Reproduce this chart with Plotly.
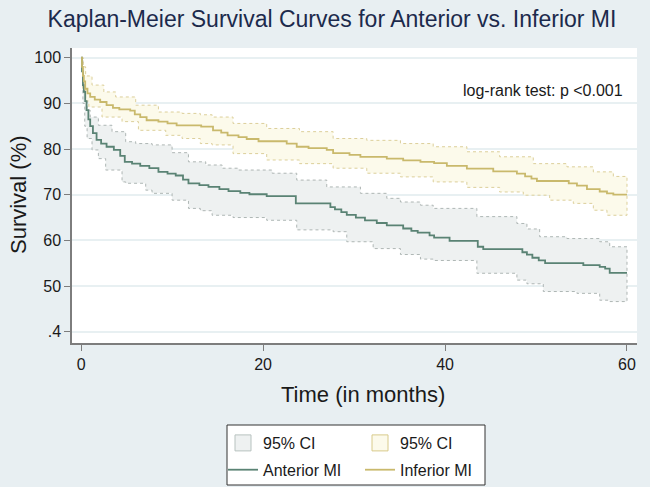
import plotly.graph_objects as go

# ---------------- data (time in months, survival in %) ----------------
ant_t = [0, 0.1, 0.2, 0.3, 0.45, 0.6, 0.8, 1.0, 1.3, 1.7, 2.2, 2.8, 3.6, 4.3, 4.8, 5.6, 6.5,
         7.5, 8.5, 9.5, 10.4, 11.2, 11.8, 13.0, 14.0, 15.2, 16.2, 17.5, 18.5, 20.4, 23.6,
         27.4, 27.9, 28.6, 29.2, 30.2, 31.2, 32.5, 33.6, 35.4, 36.3, 37.0, 38.3, 38.8, 40.5,
         43.6, 44.2, 48.5, 49.0, 49.6, 50.3, 51.0, 55.2, 57.0, 57.6, 58.1, 60.0]
ant_s = [100, 97, 94, 92.5, 90.5, 88.5, 86.5, 85, 83.5, 82, 81.2, 80.5, 79.8, 78.5, 77.2, 76.8, 76.3,
         75.8, 75.0, 74.6, 74.2, 73.3, 72.5, 72.1, 71.7, 71.2, 70.8, 70.4, 70.1, 69.7, 68.1,
         67.3, 66.8, 66.2, 65.6, 65.0, 64.4, 63.8, 63.3, 62.6, 62.1, 61.7, 61.1, 60.6, 59.9,
         58.6, 58.1, 57.4, 56.9, 56.2, 55.6, 55.0, 54.6, 54.2, 53.8, 52.9, 52.9]

ant_up_t = [0, 0.2, 0.4, 0.66, 1.0, 1.9, 3.4, 4.9, 6.0, 7.8, 10.0, 11.8, 13.7, 15.5, 17.3, 21.0,
            23.7, 27.0, 30.7, 33.6, 35.1, 37.3, 38.7, 43.5, 47.9, 49.0, 50.4, 53.4, 57.0, 58.1, 60.0]
ant_up_s = [100, 96, 92, 88.5, 87, 85.2, 83.8, 81.6, 81.2, 80.9, 79.2, 77.2, 76.5, 75.8, 75.4, 74.7,
            73.2, 71.7, 70.3, 69.2, 68.4, 67.7, 67.0, 65.2, 63.7, 62.5, 60.8, 60.4, 59.7, 58.6, 58.6]
ant_lo_t = [0, 0.2, 0.4, 0.66, 1.2, 1.9, 2.7, 4.5, 4.9, 7.1, 7.8, 10.0, 11.8, 13.1, 14.4, 16.7,
            20.4, 23.7, 27.7, 29.2, 32.1, 35.1, 37.3, 38.7, 43.5, 47.9, 49.0, 50.8, 54.5, 57.0, 58.1, 60.0]
ant_lo_s = [100, 90, 85, 82.3, 79.8, 77.9, 75.4, 72.8, 72.5, 71.0, 70.3, 68.8, 67.0, 66.5, 65.5, 65.0,
            64.4, 62.3, 61.9, 59.7, 58.2, 56.9, 55.9, 55.6, 52.8, 51.3, 50.5, 48.8, 48.4, 46.9, 46.6, 46.6]

inf_t = [0, 0.1, 0.2, 0.3, 0.45, 0.7, 1.0, 1.5, 2.1, 2.8, 3.5, 4.2, 5.4, 5.9, 6.5, 7.2, 8.5, 9.5,
         10.5, 13.2, 14.5, 15.4, 16.1, 17.3, 18.2, 19.5, 22.6, 23.7, 25.0, 27.0, 27.7, 29.5, 30.7,
         33.6, 35.4, 37.3, 38.8, 40.2, 42.4, 45.3, 47.9, 48.8, 49.5, 50.1, 53.6, 54.5, 55.6, 57.0,
         57.8, 58.5, 60.0]
inf_s = [100, 98, 96, 94.8, 93.2, 92.2, 91.4, 90.8, 90.3, 89.6, 89.0, 88.7, 88.4, 87.6, 87.0, 86.3, 86.0, 85.6,
         85.2, 84.9, 84.1, 83.6, 83.0, 82.6, 82.2, 81.7, 81.2, 80.5, 80.2, 79.8, 79.1, 78.7, 78.3,
         77.9, 77.5, 77.2, 76.9, 76.3, 75.7, 75.1, 74.6, 74.0, 73.5, 73.0, 72.5, 72.0, 71.2, 70.7,
         70.3, 70.0, 70.0]

inf_up_t = [0, 0.2, 0.5, 1.2, 2.5, 3.8, 6.0, 8.5, 11.1, 13.1, 14.4, 16.7, 20.4, 24.0, 27.7, 31.4,
            35.1, 38.7, 42.4, 46.0, 49.7, 53.4, 56.3, 58.5, 60.0]
inf_up_s = [100, 98, 96, 94.0, 92.5, 91.4, 89.6, 88.1, 87.8, 87.5, 87.0, 85.6, 84.5, 83.8, 82.3, 81.9,
            81.2, 80.5, 79.4, 78.3, 76.8, 76.1, 75.0, 74.0, 74.0]
inf_lo_t = [0, 0.2, 0.5, 0.85, 2.3, 4.5, 6.3, 9.3, 11.1, 13.1, 14.4, 16.7, 20.4, 24.0, 27.7, 31.4,
            35.1, 38.7, 42.4, 46.0, 48.6, 51.5, 54.1, 56.3, 57.8, 60.0]
inf_lo_s = [100, 93, 90.5, 89.2, 87.0, 86.0, 84.1, 83.0, 82.3, 81.2, 80.9, 79.0, 77.6, 76.8, 75.8, 74.7,
            73.9, 72.8, 71.6, 70.6, 69.9, 68.8, 68.1, 66.6, 65.5, 65.5]

y_tickvals = [40, 50, 60, 70, 80, 90, 100]
y_ticktext = [".4", "50", "60", "70", "80", "90", "100"]
x_tickvals = [0, 20, 40, 60]

# ---------------- helpers ----------------
def steps(t, s):
    xs, ys = [t[0]], [s[0]]
    for i in range(1, len(t)):
        xs += [t[i], t[i]]
        ys += [s[i - 1], s[i]]
    return xs, ys


def band(tu, su, tl, sl):
    ux, uy = steps(tu, su)
    lx, ly = steps(tl, sl)
    return ux + lx[::-1], uy + ly[::-1]


FONT = "Liberation Sans, Arial, Helvetica, sans-serif"
ANT_LINE = "#5a8374"
INF_LINE = "#c9b96c"
ANT_FILL = "#eef1f1"
INF_FILL = "#fcfaeb"
ANT_DOT = "#aeb6b4"
INF_DOT = "#dccf9a"

fig = go.Figure()

bx, by = band(ant_up_t, ant_up_s, ant_lo_t, ant_lo_s)
fig.add_trace(go.Scatter(x=bx, y=by, fill="toself", fillcolor=ANT_FILL, mode="lines",
                         line=dict(color=ANT_DOT, width=1, dash="dot"),
                         showlegend=False, hoverinfo="skip"))
bx, by = band(inf_up_t, inf_up_s, inf_lo_t, inf_lo_s)
fig.add_trace(go.Scatter(x=bx, y=by, fill="toself", fillcolor=INF_FILL, mode="lines",
                         line=dict(color=INF_DOT, width=1, dash="dot"),
                         showlegend=False, hoverinfo="skip"))

lx, ly = steps(ant_t, ant_s)
fig.add_trace(go.Scatter(x=lx, y=ly, mode="lines", line=dict(color=ANT_LINE, width=1.8),
                         name="Anterior MI", legend="legend", legendgroup="a2", legendrank=2))
lx, ly = steps(inf_t, inf_s)
fig.add_trace(go.Scatter(x=lx, y=ly, mode="lines", line=dict(color=INF_LINE, width=1.8),
                         name="Inferior MI", legend="legend2", legendgroup="b2", legendrank=2))

# legend keys for the confidence bands (square swatches, as in the original)
fig.add_trace(go.Scatter(x=[None], y=[None], mode="markers", name="95% CI",
                         marker=dict(symbol="square", size=16, color=ANT_FILL,
                                     line=dict(color="#b7c2bf", width=1)),
                         legend="legend", legendgroup="a1", legendrank=1))
fig.add_trace(go.Scatter(x=[None], y=[None], mode="markers", name="95% CI",
                         marker=dict(symbol="square", size=16, color=INF_FILL,
                                     line=dict(color="#d8ca8a", width=1)),
                         legend="legend2", legendgroup="b1", legendrank=1))

W, H = 650, 487
L, R, T, B = 72, 13, 48, 144
PW, PH = W - L - R, H - T - B


def px(xp):
    return (xp - L) / PW


def py(yp):
    return (H - B - yp) / PH


legend_common = dict(orientation="v", xanchor="left", yanchor="top", bgcolor="rgba(0,0,0,0)",
                     borderwidth=0, font=dict(family=FONT, size=16, color="#1a1a1a"),
                     tracegroupgap=3, itemwidth=30)

fig.update_layout(
    width=W, height=H,
    margin=dict(l=L, r=R, t=T, b=B, autoexpand=False),
    paper_bgcolor="#e8eff2",
    plot_bgcolor="white",
    font=dict(family=FONT, color="#1a1a1a"),
    title=dict(text="Kaplan-Meier Survival Curves for Anterior vs. Inferior MI",
               x=332 / W, xanchor="center", y=1 - 19 / H, yanchor="middle", yref="container",
               font=dict(family=FONT, size=23, color="#1c2a4c")),
    showlegend=True,
    legend=dict(x=px(223), y=py(426), **legend_common),
    legend2=dict(x=px(360), y=py(426), **legend_common),
    xaxis=dict(range=[-1, 61.1], tickvals=x_tickvals, showgrid=False, zeroline=False,
               automargin=False,
               showline=True, linecolor="#7d7d7d", linewidth=1.5,
               ticks="outside", ticklen=6, tickcolor="#7d7d7d", tickwidth=1.2,
               tickfont=dict(family=FONT, size=16, color="#1a1a1a")),
    yaxis=dict(range=[37.53, 102.12], tickvals=y_tickvals, ticktext=y_ticktext,
               automargin=False,
               showgrid=True, gridcolor="#e8f0f2", gridwidth=1.5, zeroline=False,
               showline=True, linecolor="#7d7d7d", linewidth=1.5,
               ticks="outside", ticklen=6, tickcolor="#7d7d7d", tickwidth=1.2,
               tickfont=dict(family=FONT, size=16, color="#1a1a1a")),
    shapes=[dict(type="rect", xref="paper", yref="paper",
                 x0=px(227), x1=px(485), y0=py(485), y1=py(425),
                 fillcolor="white", line=dict(color="#333333", width=1), layer="below")],
    annotations=[
        dict(text="log-rank test: p <0.001", xref="paper", yref="paper",
             x=px(625), y=py(90), xanchor="right", yanchor="middle", showarrow=False,
             font=dict(family=FONT, size=16, color="#1a1a1a")),
        dict(text="Survival (%)", xref="paper", yref="paper", x=px(18), y=py(195),
             xanchor="center", yanchor="middle", textangle=-90, showarrow=False,
             font=dict(family=FONT, size=22, color="#1a1a1a")),
        dict(text="Time (in months)", xref="paper", yref="paper", x=px(363), y=py(395),
             xanchor="center", yanchor="middle", showarrow=False,
             font=dict(family=FONT, size=22, color="#1a1a1a")),
    ],
)

fig.write_html("out.html", config={"displayModeBar": False},
               post_script="document.body.style.margin='0px';")
